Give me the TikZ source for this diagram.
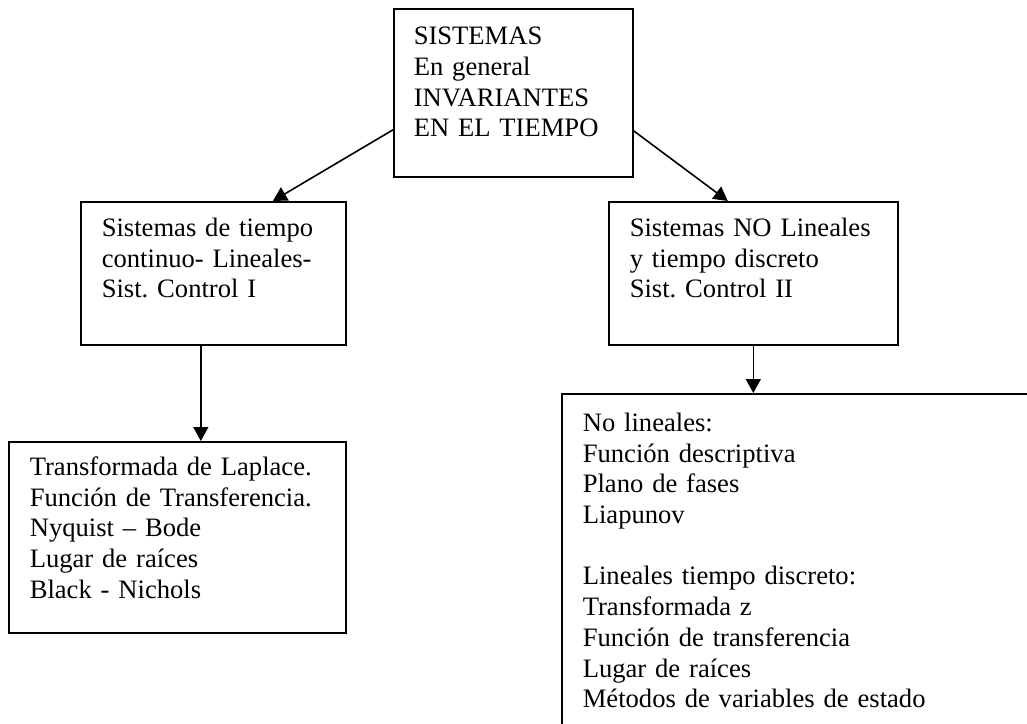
\documentclass[tikz,border=0pt]{standalone}
\usepackage{fontspec}
\setmainfont{Liberation Serif}
\usetikzlibrary{arrows.meta}
\frenchspacing
\newcommand{\cajafont}{\fontsize{26.6pt}{30.7pt}\selectfont}
\tikzset{
  caja/.style={draw, line width=1.6pt, anchor=north west, align=left,
    inner xsep=21pt, inner ysep=0pt, font=\cajafont},
  flecha/.style={line width=1.6pt, -{Triangle[length=14pt,width=15pt]}}
}

\begin{document}
\begin{tikzpicture}[x=1pt,y=-1pt]
            \useasboundingbox (0,0) rectangle (1027,723);
            \clip (0,0) rectangle (1027,723);
            \node[caja, inner xsep=20pt, text width=199pt, text height=36pt, text depth=132pt] (sis) at (393,8)
                {SISTEMAS\\En general\\INVARIANTES\\EN EL TIEMPO};
            \node[caja, text width=223pt, text height=34.6pt, text depth=108.4pt] (cont) at (80,201)
                {Sistemas de tiempo\\continuo- Lineales-\\Sist. Control I};
            \node[caja, text width=247pt, text height=34.6pt, text depth=108.4pt] (nolin) at (608,201)
                {Sistemas~NO~Lineales\\y tiempo discreto\\Sist. Control II};
            \node[caja, text width=295pt, text height=33.6pt, text depth=157.4pt] (lap) at (8,441)
                {Transformada de Laplace.\\Función de Transferencia.\\Nyquist – Bode\\Lugar de raíces\\Black - Nichols};
            \node[caja, text width=558pt, text height=37.6pt, text depth=362pt] (disc) at (561,393)
                {No lineales:\\Función descriptiva\\Plano de fases\\Liapunov\\[30.7pt]Lineales tiempo discreto:\\Transformada z\\Función de transferencia\\Lugar de raíces\\Métodos de variables de estado};
            \draw[flecha] ([yshift=-37pt]sis.west) -- ([xshift=59.5pt]cont.north);
            \draw[flecha] ([yshift=-38pt]sis.east) -- ([xshift=-25.5pt]nolin.north);
            \draw[flecha] ([xshift=-12.5pt]cont.south) -- ([xshift=-12.5pt]cont.south |- lap.north);
            \draw[flecha] (nolin.south) -- (nolin.south |- disc.north);
        \end{tikzpicture}
\end{document}
